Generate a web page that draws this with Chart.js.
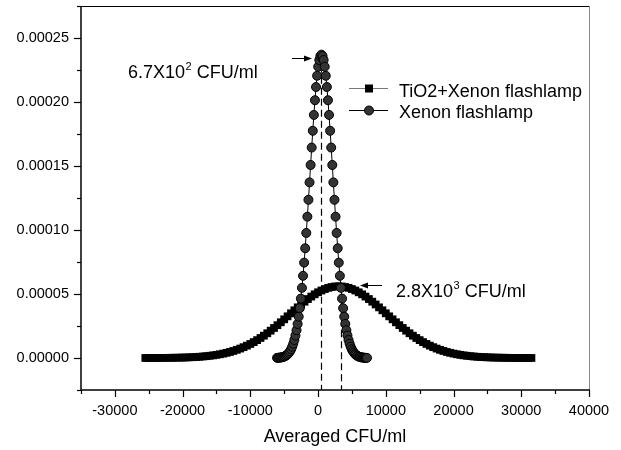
<!DOCTYPE html>
<html>
<head>
<meta charset="utf-8">
<script src="https://cdn.jsdelivr.net/npm/chart.js@4.4.1/dist/chart.umd.min.js"></script>
<style>
  html, body { margin: 0; padding: 0; background: #fff; }
</style>
</head>
<body>
<canvas id="grafico" width="621" height="450"></canvas>
<script>
// Xenon flashlamp (circulos)
const xenonX = [
  -6060, -5900, -5740, -5580, -5420, -5260, -5100, -4940, -4780, -4620,
  -4460, -4300, -4140, -3980, -3820, -3660, -3500, -3340, -3180, -3020,
  -2860, -2700, -2540, -2380, -2220, -2060, -1900, -1740, -1580, -1420,
  -1260, -1100, -940, -780, -620, -460, -300, -140, 20, 180,
  340, 500, 660, 820, 980, 1140, 1300, 1460, 1620, 1780,
  1940, 2100, 2260, 2420, 2580, 2740, 2900, 3060, 3220, 3380,
  3540, 3700, 3860, 4020, 4180, 4340, 4500, 4660, 4820, 4980,
  5140, 5300, 5460, 5620, 5780, 5940, 6100, 6260, 6420, 6580,
  6740, 6900, 7060, 7220
];
const xenonY = [
  1.2e-7, 1.7e-7, 2.4e-7, 3.5e-7, 4.9e-7, 6.8e-7, 9.3e-7, 1.28e-6, 1.73e-6, 2.32e-6,
  3.08e-6, 4.06e-6, 5.30e-6, 6.86e-6, 8.79e-6, 1.117e-5, 1.406e-5, 1.755e-5, 2.17e-5, 2.66e-5,
  3.23e-5, 3.89e-5, 4.64e-5, 5.48e-5, 6.42e-5, 7.45e-5, 8.57e-5, 9.77e-5, 1.104e-4, 1.236e-4,
  1.372e-4, 1.508e-4, 1.644e-4, 1.775e-4, 1.899e-4, 2.014e-4, 2.117e-4, 2.205e-4, 2.276e-4, 2.328e-4,
  2.359e-4, 2.370e-4, 2.359e-4, 2.328e-4, 2.276e-4, 2.205e-4, 2.117e-4, 2.014e-4, 1.899e-4, 1.775e-4,
  1.644e-4, 1.508e-4, 1.372e-4, 1.236e-4, 1.104e-4, 9.77e-5, 8.57e-5, 7.45e-5, 6.42e-5, 5.48e-5,
  4.64e-5, 3.89e-5, 3.23e-5, 2.66e-5, 2.17e-5, 1.755e-5, 1.406e-5, 1.117e-5, 8.79e-6, 6.86e-6,
  5.30e-6, 4.06e-6, 3.08e-6, 2.32e-6, 1.73e-6, 1.28e-6, 9.3e-7, 6.8e-7, 4.9e-7, 3.5e-7,
  2.4e-7, 1.7e-7, 1.2e-7, 8e-8
];

// TiO2+Xenon flashlamp (quadrados)
const tio2X = [
  -25500, -25000, -24500, -24000, -23500, -23000, -22500, -22000, -21500, -21000,
  -20500, -20000, -19500, -19000, -18500, -18000, -17500, -17000, -16500, -16000,
  -15500, -15000, -14500, -14000, -13500, -13000, -12500, -12000, -11500, -11000,
  -10500, -10000, -9500, -9000, -8500, -8000, -7500, -7000, -6500, -6000,
  -5500, -5000, -4500, -4000, -3500, -3000, -2500, -2000, -1500, -1000,
  -500, 0, 500, 1000, 1500, 2000, 2500, 3000, 3500, 4000,
  4500, 5000, 5500, 6000, 6500, 7000, 7500, 8000, 8500, 9000,
  9500, 10000, 10500, 11000, 11500, 12000, 12500, 13000, 13500, 14000,
  14500, 15000, 15500, 16000, 16500, 17000, 17500, 18000, 18500, 19000,
  19500, 20000, 20500, 21000, 21500, 22000, 22500, 23000, 23500, 24000,
  24500, 25000, 25500, 26000, 26500, 27000, 27500, 28000, 28500, 29000,
  29500, 30000, 30500, 31000, 31500
];
const tio2Y = [
  2e-8, 3e-8, 4e-8, 5e-8, 6e-8, 8e-8, 1.1e-7, 1.4e-7, 1.7e-7, 2.2e-7,
  2.7e-7, 3.4e-7, 4.2e-7, 5.3e-7, 6.5e-7, 8.0e-7, 9.7e-7, 1.18e-6, 1.43e-6, 1.72e-6,
  2.06e-6, 2.46e-6, 2.92e-6, 3.45e-6, 4.05e-6, 4.74e-6, 5.52e-6, 6.39e-6, 7.37e-6, 8.46e-6,
  9.66e-6, 1.097e-5, 1.241e-5, 1.396e-5, 1.564e-5, 1.743e-5, 1.934e-5, 2.135e-5, 2.345e-5, 2.564e-5,
  2.790e-5, 3.021e-5, 3.255e-5, 3.491e-5, 3.726e-5, 3.957e-5, 4.183e-5, 4.400e-5, 4.606e-5, 4.799e-5,
  4.976e-5, 5.134e-5, 5.272e-5, 5.388e-5, 5.480e-5, 5.546e-5, 5.587e-5, 5.600e-5, 5.587e-5, 5.546e-5,
  5.480e-5, 5.388e-5, 5.272e-5, 5.134e-5, 4.976e-5, 4.799e-5, 4.606e-5, 4.400e-5, 4.183e-5, 3.957e-5,
  3.726e-5, 3.491e-5, 3.255e-5, 3.021e-5, 2.790e-5, 2.564e-5, 2.345e-5, 2.135e-5, 1.934e-5, 1.743e-5,
  1.564e-5, 1.396e-5, 1.241e-5, 1.097e-5, 9.66e-6, 8.46e-6, 7.37e-6, 6.39e-6, 5.52e-6, 4.74e-6,
  4.05e-6, 3.45e-6, 2.92e-6, 2.46e-6, 2.06e-6, 1.72e-6, 1.43e-6, 1.18e-6, 9.7e-7, 8.0e-7,
  6.5e-7, 5.3e-7, 4.2e-7, 3.4e-7, 2.7e-7, 2.2e-7, 1.7e-7, 1.4e-7, 1.1e-7, 8e-8,
  6e-8, 5e-8, 4e-8, 3e-8, 2e-8
];

// rotulos dos eixos
const xTickLabels = [-30000, -20000, -10000, 0, 10000, 20000, 30000, 40000];
const yTickLabels = [0, 0.00005, 0.0001, 0.00015, 0.0002, 0.00025];

// linhas tracejadas nos picos e anotacoes
const picoX = [500, 3400];
const picoY = [2.37e-4, 5.6e-5];
const picoTexto = [['6.7X10', '2', ' CFU/ml'], ['2.8X10', '3', ' CFU/ml']];

const fonte = '"Liberation Sans", Arial, sans-serif';

function ehRotulo(lista, v) {
  return lista.some(t => Math.abs(t - v) < 1e-9);
}

function textoPotencia(ctx, partes, x, yBase) {
  ctx.fillStyle = '#000';
  ctx.textAlign = 'left';
  ctx.textBaseline = 'alphabetic';
  ctx.font = '18px ' + fonte;
  ctx.fillText(partes[0], x, yBase);
  let w = ctx.measureText(partes[0]).width + 0.5;
  ctx.font = '11px ' + fonte;
  ctx.fillText(partes[1], x + w, yBase - 8);
  w += ctx.measureText(partes[1]).width;
  ctx.font = '18px ' + fonte;
  ctx.fillText(partes[2], x + w, yBase);
}

function seta(ctx, x0, x1, y) {
  // x1 = ponta da seta
  const dir = Math.sign(x1 - x0);
  ctx.strokeStyle = '#000';
  ctx.fillStyle = '#000';
  ctx.lineWidth = 1;
  ctx.beginPath();
  ctx.moveTo(x0, y);
  ctx.lineTo(x1 - dir * 6, y);
  ctx.stroke();
  ctx.beginPath();
  ctx.moveTo(x1, y);
  ctx.lineTo(x1 - dir * 8, y - 3);
  ctx.lineTo(x1 - dir * 8, y + 3);
  ctx.closePath();
  ctx.fill();
}

const desenhoExtra = {
  id: 'desenhoExtra',
  beforeDatasetsDraw(chart) {
    const { ctx, scales: { x, y }, chartArea } = chart;
    ctx.save();
    ctx.strokeStyle = '#000';
    ctx.lineWidth = 1.2;
    ctx.setLineDash([7, 4]);
    picoX.forEach((px, i) => {
      const xp = Math.round(x.getPixelForValue(px)) + 0.5;
      ctx.beginPath();
      ctx.moveTo(xp, y.getPixelForValue(picoY[i]));
      ctx.lineTo(xp, chartArea.bottom);
      ctx.stroke();
    });
    ctx.restore();
  },
  afterDraw(chart) {
    const { ctx, scales: { x, y }, chartArea: a } = chart;
    ctx.save();

    // moldura
    ctx.lineWidth = 1;
    ctx.strokeStyle = '#000';
    ctx.beginPath();
    ctx.moveTo(a.left, a.top + 0.5);
    ctx.lineTo(a.right, a.top + 0.5);
    ctx.stroke();
    ctx.strokeStyle = '#888';
    ctx.beginPath();
    ctx.moveTo(a.right + 0.5, a.top);
    ctx.lineTo(a.right + 0.5, a.bottom);
    ctx.stroke();

    // eixos
    ctx.strokeStyle = '#000';
    ctx.lineWidth = 1.5;
    ctx.beginPath();
    ctx.moveTo(a.left, a.top);
    ctx.lineTo(a.left, a.bottom);
    ctx.lineTo(a.right + 1, a.bottom);
    ctx.stroke();

    // marcas
    ctx.lineWidth = 1.2;
    x.ticks.forEach(t => {
      const xp = Math.round(x.getPixelForValue(t.value)) + 0.5;
      const len = ehRotulo(xTickLabels, t.value) ? 7 : 4;
      ctx.beginPath();
      ctx.moveTo(xp, a.bottom);
      ctx.lineTo(xp, a.bottom + len);
      ctx.stroke();
    });
    y.ticks.forEach(t => {
      const yp = Math.round(y.getPixelForValue(t.value)) + 0.5;
      const len = ehRotulo(yTickLabels, t.value) ? 7 : 4;
      ctx.beginPath();
      ctx.moveTo(a.left, yp);
      ctx.lineTo(a.left - len, yp);
      ctx.stroke();
    });

    // legenda
    ctx.lineWidth = 1;
    ctx.strokeStyle = '#777';
    ctx.beginPath();
    ctx.moveTo(349, 88.5);
    ctx.lineTo(388, 88.5);
    ctx.stroke();
    ctx.fillStyle = '#000';
    ctx.fillRect(365, 84.5, 8, 8);
    ctx.strokeStyle = '#000';
    ctx.beginPath();
    ctx.moveTo(349, 110.5);
    ctx.lineTo(388, 110.5);
    ctx.stroke();
    ctx.fillStyle = '#333';
    ctx.beginPath();
    ctx.arc(369, 110.5, 4.5, 0, Math.PI * 2);
    ctx.fill();
    ctx.stroke();
    ctx.fillStyle = '#000';
    ctx.font = '18px ' + fonte;
    ctx.textAlign = 'left';
    ctx.textBaseline = 'alphabetic';
    ctx.fillText(chart.data.datasets[1].label, 399, 96.5);
    ctx.fillText(chart.data.datasets[0].label, 399, 117.5);

    // anotacoes dos picos
    textoPotencia(ctx, picoTexto[0], 128, 78);
    seta(ctx, 292, 312, 58.5);
    textoPotencia(ctx, picoTexto[1], 396, 297);
    seta(ctx, 382, 360, 285.5);

    ctx.restore();
  }
};

const ctx = document.getElementById('grafico').getContext('2d');

new Chart(ctx, {
  type: 'scatter',
  data: {
    datasets: [
      {
        label: 'Xenon flashlamp',
        data: xenonX.map((v, i) => ({ x: v, y: xenonY[i] })),
        showLine: true,
        borderColor: '#000',
        borderWidth: 1,
        pointStyle: 'circle',
        pointRadius: 4.5,
        pointBackgroundColor: '#333',
        pointBorderColor: '#000',
        pointBorderWidth: 1,
        order: 0
      },
      {
        label: 'TiO2+Xenon flashlamp',
        data: tio2X.map((v, i) => ({ x: v, y: tio2Y[i] })),
        showLine: true,
        borderColor: '#000',
        borderWidth: 1,
        pointStyle: 'rect',
        pointRadius: 5.5,
        pointBackgroundColor: '#000',
        pointBorderColor: '#000',
        pointBorderWidth: 0,
        order: 1
      }
    ]
  },
  options: {
    responsive: false,
    animation: false,
    devicePixelRatio: 1,
    layout: { padding: { top: 6, right: 32, left: 0, bottom: 0 } },
    plugins: {
      legend: { display: false },
      tooltip: { enabled: false }
    },
    scales: {
      x: {
        type: 'linear',
        min: -35000,
        max: 40000,
        grid: { display: false, drawTicks: false },
        border: { display: false },
        ticks: {
          stepSize: 5000,
          autoSkip: false,
          maxRotation: 0,
          padding: 12,
          color: '#000',
          font: { family: fonte, size: 14.5 },
          callback: v => ehRotulo(xTickLabels, v) ? String(Math.round(v)) : ''
        },
        title: {
          display: true,
          text: 'Averaged CFU/ml',
          color: '#000',
          font: { family: fonte, size: 18 },
          padding: { top: 0, bottom: 2 }
        },
        afterFit: s => { s.height = 60; s.paddingLeft = 0; s.paddingRight = 0; }
      },
      y: {
        type: 'linear',
        min: -0.000025,
        max: 0.000275,
        grid: { display: false, drawTicks: false },
        border: { display: false },
        ticks: {
          stepSize: 0.000025,
          autoSkip: false,
          padding: 12,
          color: '#000',
          font: { family: fonte, size: 14.5 },
          callback: v => ehRotulo(yTickLabels, v) ? v.toFixed(5) : ''
        },
        afterFit: s => { s.width = 81; s.paddingTop = 0; s.paddingBottom = 0; }
      }
    }
  },
  plugins: [desenhoExtra]
});
</script>
</body>
</html>
